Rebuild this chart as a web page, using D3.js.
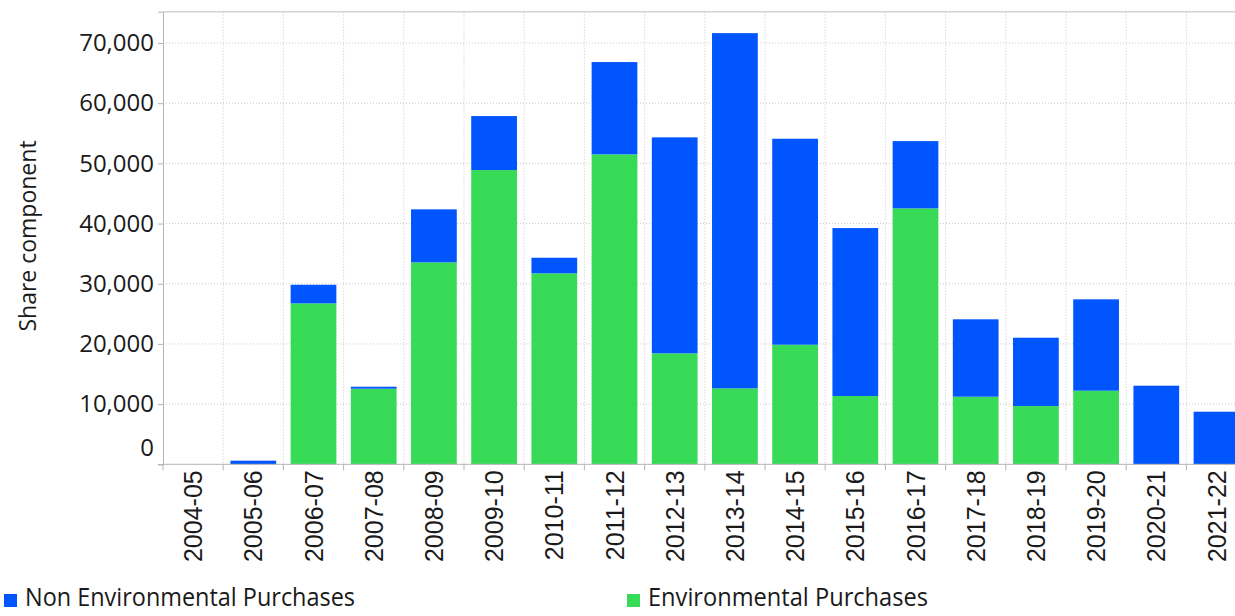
<!DOCTYPE html>
<html>
<head>
<meta charset="utf-8">
<script src="https://cdn.jsdelivr.net/npm/d3@7"></script>
<style>
  body { margin: 0; background: #fff; }
  svg { display: block; }
  .ytick text { font-family: 'Open Sans', sans-serif; font-size: 24px; fill: #1a1a1a; }
  .xtick text { font-family: 'Liberation Sans', Arial, sans-serif; font-size: 25px; fill: #1a1a1a; }
  .label { font-family: 'Open Sans', sans-serif; font-size: 23px; fill: #1a1a1a; }
  .legend { font-family: 'Open Sans', sans-serif; font-size: 25px; fill: #1a1a1a; }
</style>
</head>
<body>
<div id="chart"></div>
<script>
// values
const years = ['2004-05', '2005-06', '2006-07', '2007-08', '2008-09', '2009-10', '2010-11', '2011-12', '2012-13',
               '2013-14', '2014-15', '2015-16', '2016-17', '2017-18', '2018-19', '2019-20', '2020-21', '2021-22'];
const environmental = [0, 0, 26740, 12560, 33550, 48890, 31730, 51500, 18440,
                       12620, 19870, 11350, 42520, 11230, 9680, 12230, 0, 0];
const nonEnvironmental = [0, 600, 3090, 330, 8810, 8970, 2590, 15330, 35880,
                          59020, 34220, 27900, 11180, 12860, 11350, 15180, 13060, 8740];
const yTicks = [0, 10000, 20000, 30000, 40000, 50000, 60000, 70000];
const seriesNames = ['Environmental Purchases', 'Non Environmental Purchases'];

const w = 1235;
const h = 616;
const plotLeft = 163;
const plotTop = 11.7;
const plotBottom = 464.3;
const step = 60.2;
const plotRight = plotLeft + years.length * step;

const colors = {'Environmental Purchases': '#37db58', 'Non Environmental Purchases': '#0055ff'};

const rows = years.map((y, i) => ({
  year: y,
  'Environmental Purchases': environmental[i],
  'Non Environmental Purchases': nonEnvironmental[i]
}));
const stacked = d3.stack().keys(seriesNames)(rows);

//Scales
const xScale = d3.scaleBand()
                 .domain(years)
                 .range([plotLeft, plotRight])
                 .paddingInner(0.24)
                 .paddingOuter(0.12);

const yScale = d3.scaleLinear()
                 .domain([0, 75200])
                 .range([plotBottom, plotTop]);

const svg = d3.select('#chart')
              .append('svg')
              .attr('width', w)
              .attr('height', h);

//Grid
svg.append('line')
   .attr('x1', plotLeft).attr('x2', plotRight)
   .attr('y1', plotTop).attr('y2', plotTop)
   .attr('stroke', '#d4d4d4').attr('stroke-width', 1.5);

svg.append('g')
   .selectAll('line')
   .data(yTicks.filter(d => d > 0))
   .enter()
   .append('line')
   .attr('x1', plotLeft).attr('x2', plotRight)
   .attr('y1', d => yScale(d)).attr('y2', d => yScale(d))
   .attr('stroke', '#c8c8c8')
   .attr('stroke-dasharray', '1,2');

svg.append('g')
   .selectAll('line')
   .data(years.slice(1))
   .enter()
   .append('line')
   .attr('x1', d => xScale(d) - xScale.step() * 0.12)
   .attr('x2', d => xScale(d) - xScale.step() * 0.12)
   .attr('y1', plotTop).attr('y2', plotBottom)
   .attr('stroke', '#c8c8c8')
   .attr('stroke-dasharray', '1,2');

//Bars
svg.selectAll('g.series')
   .data(stacked)
   .enter()
   .append('g')
   .attr('class', 'series')
   .attr('fill', d => colors[d.key])
   .selectAll('rect')
   .data(d => d)
   .enter()
   .append('rect')
   .attr('x', d => xScale(d.data.year))
   .attr('y', d => yScale(d[1]))
   .attr('width', xScale.bandwidth())
   .attr('height', d => yScale(d[0]) - yScale(d[1]));

//Axes
const yAxis = d3.axisLeft(yScale)
                .tickValues(yTicks)
                .tickFormat(d3.format(','))
                .tickSize(5)
                .tickPadding(4);

const gy = svg.append('g')
              .attr('class', 'ytick')
              .attr('transform', `translate(${plotLeft}, 0)`)
              .call(yAxis);
gy.select('.domain').attr('stroke', '#b4b4b4');
gy.selectAll('.tick line').attr('stroke', '#b4b4b4');
gy.selectAll('.tick text').filter(d => d === 0).attr('dy', '-0.38em');

const gx = svg.append('g')
              .attr('class', 'xtick')
              .attr('transform', `translate(0, ${plotBottom})`);
gx.append('line')
  .attr('x1', plotLeft).attr('x2', plotRight)
  .attr('stroke', '#b4b4b4');
gx.selectAll('line.t')
  .data(years.concat(['end']))
  .enter()
  .append('line')
  .attr('class', 't')
  .attr('x1', (d, i) => plotLeft + i * xScale.step())
  .attr('x2', (d, i) => plotLeft + i * xScale.step())
  .attr('y1', 0).attr('y2', 6)
  .attr('stroke', '#b4b4b4');
gx.selectAll('text')
  .data(years)
  .enter()
  .append('text')
  .attr('transform', d => `translate(${xScale(d) + xScale.bandwidth() / 2}, 6) rotate(-90)`)
  .attr('text-anchor', 'end')
  .attr('dy', '0.36em')
  .text(d => d);

//Axis label
svg.append('text')
   .attr('class', 'label')
   .attr('transform', 'translate(36, 236) rotate(-90)')
   .attr('text-anchor', 'middle')
   .text('Share component');

//Legend
const legend = [
  {name: 'Non Environmental Purchases', x: 4, tx: 25, len: 330},
  {name: 'Environmental Purchases', x: 627, tx: 648, len: 280}
];
legend.forEach(l => {
  svg.append('rect')
     .attr('x', l.x).attr('y', 594)
     .attr('width', 13).attr('height', 13)
     .attr('fill', colors[l.name]);
  svg.append('text')
     .attr('class', 'legend')
     .attr('x', l.tx).attr('y', 606)
     .attr('textLength', l.len)
     .attr('lengthAdjust', 'spacingAndGlyphs')
     .text(l.name);
});
</script>
</body>
</html>
